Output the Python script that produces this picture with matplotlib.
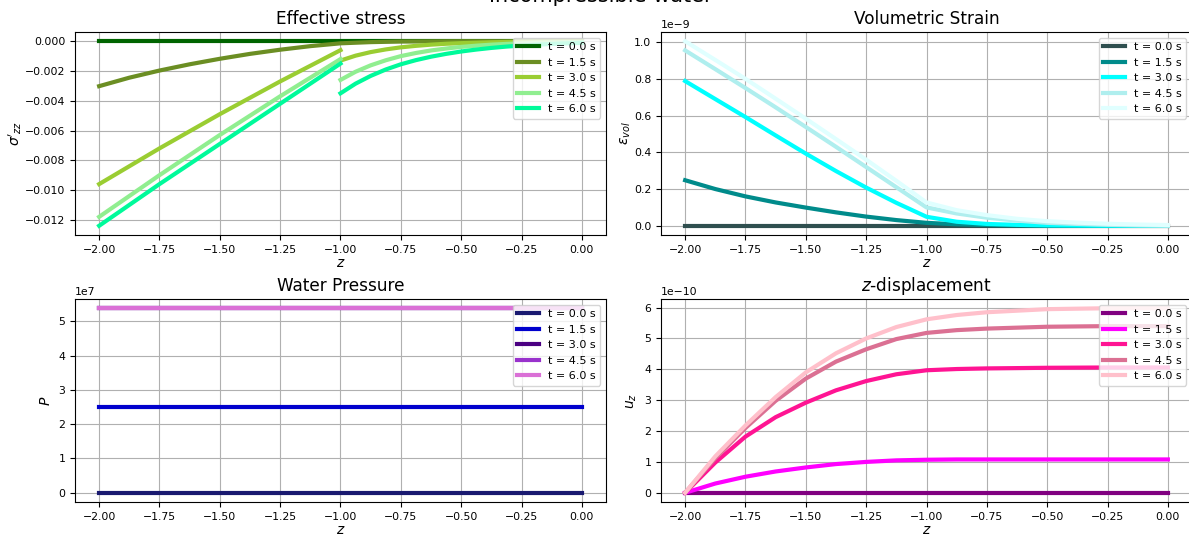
import numpy as np
import matplotlib
matplotlib.use("Agg")
import matplotlib.pyplot as plt

# time labels shared by all panels
times = [0.0, 1.5, 3.0, 4.5, 6.0]

# ---- effective stress (two segments, jump at z = -1) ----
z_top = [-2.0, -1.75, -1.5, -1.25, -1.0]
z_bot = [-1.0, -0.9375, -0.875, -0.8125, -0.75, -0.6875, -0.625, -0.5625, -0.5,
         -0.4375, -0.375, -0.3125, -0.25, -0.1875, -0.125, -0.0625, 0.0]
z_fine = [-2.0, -1.875, -1.75, -1.625, -1.5, -1.375, -1.25, -1.125, -1.0,
          -0.875, -0.75, -0.5, -0.25, 0.0]

stress_t0 = [0.0] * len(z_fine)
stress_t15 = [-0.00302, -0.00245, -0.00197, -0.00155, -0.00118, -0.00085,
              -0.00057, -0.00033, -0.00014, -0.00006, -0.00002, 0.0, 0.0, 0.0]
stress_t30_top = [-0.0096, -0.0072, -0.0049, -0.0027, -0.0006]
stress_t30_bot = [-1.3e-3, -0.97e-3, -0.73e-3, -0.55e-3, -0.41e-3, -0.31e-3,
                  -0.23e-3, -0.17e-3, -0.13e-3, -0.10e-3, -0.07e-3, -0.05e-3,
                  -0.04e-3, -0.03e-3, -0.02e-3, -0.01e-3, -0.01e-3]
stress_t45_top = [-0.0118, -0.0090, -0.0063, -0.0037, -0.0012]
stress_t45_bot = [-2.6e-3, -2.05e-3, -1.62e-3, -1.28e-3, -1.0e-3, -0.79e-3,
                  -0.62e-3, -0.49e-3, -0.38e-3, -0.30e-3, -0.23e-3, -0.18e-3,
                  -0.14e-3, -0.10e-3, -0.08e-3, -0.06e-3, -0.05e-3]
stress_t60_top = [-0.0124, -0.0096, -0.0069, -0.0042, -0.0015]
stress_t60_bot = [-3.5e-3, -2.85e-3, -2.33e-3, -1.9e-3, -1.55e-3, -1.27e-3,
                  -1.04e-3, -0.85e-3, -0.69e-3, -0.56e-3, -0.45e-3, -0.36e-3,
                  -0.29e-3, -0.23e-3, -0.18e-3, -0.14e-3, -0.11e-3]

# ---- volumetric strain (1e-9) ----
z_eps = [-2.0, -1.875, -1.75, -1.625, -1.5, -1.375, -1.25, -1.125, -1.0,
         -0.875, -0.75, -0.625, -0.5, -0.375, -0.25, -0.125, 0.0]
eps_t0 = [0.0] * len(z_eps)
eps_t15 = [0.248, 0.200, 0.160, 0.127, 0.099, 0.073, 0.050, 0.031, 0.016,
           0.008, 0.004, 0.002, 0.001, 0.0, 0.0, 0.0, 0.0]
eps_t30 = [0.788, 0.690, 0.592, 0.492, 0.393, 0.298, 0.208, 0.125, 0.049,
           0.022, 0.010, 0.005, 0.002, 0.001, 0.0, 0.0, 0.0]
eps_t45 = [0.955, 0.853, 0.750, 0.645, 0.538, 0.430, 0.320, 0.210, 0.100,
           0.067, 0.044, 0.028, 0.016, 0.010, 0.005, 0.002, 0.0]
eps_t60 = [1.005, 0.903, 0.800, 0.692, 0.583, 0.472, 0.360, 0.245, 0.127,
           0.085, 0.058, 0.038, 0.025, 0.017, 0.011, 0.007, 0.004]

# ---- water pressure (1e7) ----
z_p = [-2.0, 0.0]
p_vals = [0.0, 2.5, 5.38, 5.38, 5.38]

# ---- z-displacement (1e-10) ----
z_u = [-2.0, -1.875, -1.75, -1.625, -1.5, -1.375, -1.25, -1.125, -1.0,
       -0.875, -0.75, -0.5, -0.25, 0.0]
u_t0 = [0.0] * len(z_u)
u_t15 = [0.0, 0.30, 0.52, 0.69, 0.82, 0.93, 1.00, 1.05, 1.07, 1.08, 1.08, 1.08, 1.08, 1.08]
u_t30 = [0.0, 0.98, 1.82, 2.45, 2.92, 3.32, 3.62, 3.84, 3.97, 4.01, 4.03, 4.05, 4.06, 4.06]
u_t45 = [0.0, 1.12, 2.10, 2.98, 3.70, 4.25, 4.65, 4.98, 5.18, 5.27, 5.32, 5.38, 5.40, 5.40]
u_t60 = [0.0, 1.18, 2.18, 3.10, 3.90, 4.52, 5.00, 5.37, 5.62, 5.76, 5.85, 5.95, 5.98, 5.98]

stress_colors = ["darkgreen", "olivedrab", "yellowgreen", "lightgreen", "mediumspringgreen"]
eps_colors = ["darkslategray", "darkcyan", "cyan", "paleturquoise", "lightcyan"]
p_colors = ["midnightblue", "mediumblue", "indigo", "darkorchid", "orchid"]
u_colors = ["purple", "magenta", "deeppink", "palevioletred", "pink"]

LW = 3
TICK_FS = 7.8
LEG_FS = 8
TITLE_FS = 12.2
LABEL_FS = 10


def join_segments(za, va, zb, vb):
    """Put a NaN between two segments so the jump is not drawn."""
    return list(za) + [za[-1]] + list(zb), list(va) + [np.nan] + list(vb)


fig = plt.figure(figsize=(11.89, 5.37), dpi=100)
W, H = 1189, 537


def px_axes(x0, y0, x1, y1):
    return fig.add_axes([x0 / W, 1 - y1 / H, (x1 - x0) / W, (y1 - y0) / H])


ax1 = px_axes(75, 32, 606, 235)
ax2 = px_axes(661, 32, 1192, 235)
ax3 = px_axes(75, 299, 606, 502)
ax4 = px_axes(661, 299, 1192, 502)

labels = [f"t = {t:.1f} s" for t in times]

# effective stress
ax1.plot(z_fine, stress_t0, color=stress_colors[0], lw=LW, label=labels[0])
ax1.plot(z_fine, stress_t15, color=stress_colors[1], lw=LW, label=labels[1])
for i, (top, bot) in enumerate([(stress_t30_top, stress_t30_bot),
                                 (stress_t45_top, stress_t45_bot),
                                 (stress_t60_top, stress_t60_bot)]):
    zz, vv = join_segments(z_top, top, z_bot, bot)
    ax1.plot(zz, vv, color=stress_colors[i + 2], lw=LW, label=labels[i + 2])
ax1.set_title("Effective stress", fontsize=TITLE_FS)
ax1.set_ylabel(r"$\sigma'_{zz}$", fontsize=LABEL_FS)

# volumetric strain
for series, c, lab in zip([eps_t0, eps_t15, eps_t30, eps_t45, eps_t60], eps_colors, labels):
    ax2.plot(z_eps, np.array(series) * 1e-9, color=c, lw=LW, label=lab)
ax2.set_title("Volumetric Strain", fontsize=TITLE_FS)
ax2.set_ylabel(r"$\varepsilon_{vol}$", fontsize=LABEL_FS)

# water pressure
for p, c, lab in zip(p_vals, p_colors, labels):
    ax3.plot(z_p, [p * 1e7, p * 1e7], color=c, lw=LW, label=lab)
ax3.set_title("Water Pressure", fontsize=TITLE_FS)
ax3.set_ylabel(r"$P$", fontsize=LABEL_FS)

# z-displacement
for series, c, lab in zip([u_t0, u_t15, u_t30, u_t45, u_t60], u_colors, labels):
    ax4.plot(z_u, np.array(series) * 1e-10, color=c, lw=LW, label=lab)
ax4.set_title(r"$z$-displacement", fontsize=TITLE_FS)
ax4.set_ylabel(r"$u_z$", fontsize=LABEL_FS)

for ax in (ax1, ax2, ax3, ax4):
    ax.set_xlabel(r"$z$", fontsize=LABEL_FS, labelpad=1)
    ax.grid(True)
    ax.tick_params(labelsize=TICK_FS)
    ax.yaxis.get_offset_text().set_fontsize(TICK_FS)
    ax.set_xticks([-2.0, -1.75, -1.5, -1.25, -1.0, -0.75, -0.5, -0.25, 0.0])
    ax.legend(loc="upper right", fontsize=LEG_FS)

ax1.yaxis.labelpad = 1
ax2.yaxis.labelpad = 1

fig.text(0.505, 1 - 1.5 / H, "Incompressible water", ha="center", va="baseline", fontsize=15)

fig.savefig("out.png", dpi=100)
